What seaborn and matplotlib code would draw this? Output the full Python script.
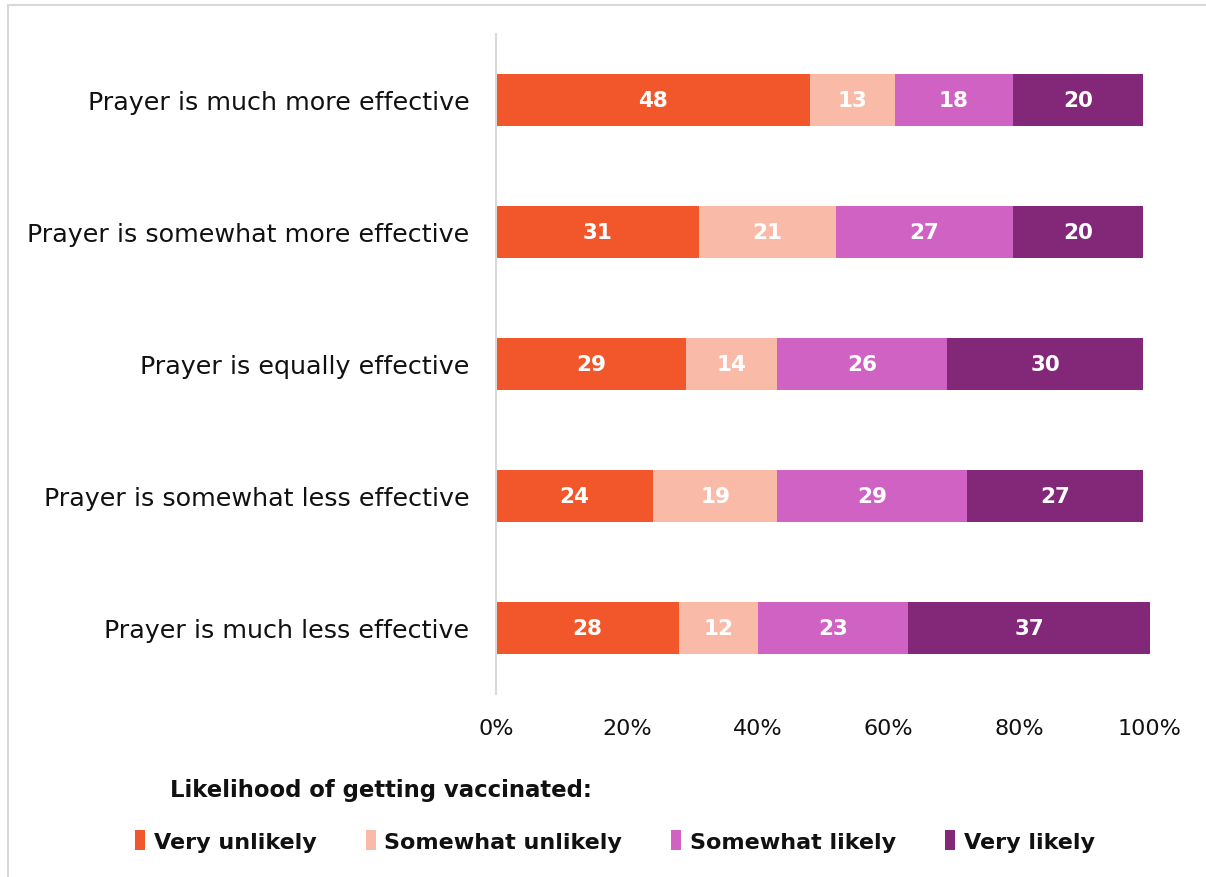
import matplotlib
matplotlib.use("Agg")
import matplotlib.pyplot as plt
from matplotlib.patches import Rectangle, Patch
import numpy as np
import pandas as pd
import seaborn as sns

categories = [
    "Prayer is much more effective",
    "Prayer is somewhat more effective",
    "Prayer is equally effective",
    "Prayer is somewhat less effective",
    "Prayer is much less effective",
]
series_names = ["Very unlikely", "Somewhat unlikely", "Somewhat likely", "Very likely"]
very_unlikely = [48, 31, 29, 24, 28]
somewhat_unlikely = [13, 21, 14, 19, 12]
somewhat_likely = [18, 27, 26, 29, 23]
very_likely = [20, 20, 30, 27, 37]
x_ticks = [0, 20, 40, 60, 80, 100]
x_tick_labels = ["0%", "20%", "40%", "60%", "80%", "100%"]
legend_title = "Likelihood of getting vaccinated:"

colors = ["#F2572B", "#F9BBA8", "#D062C4", "#832878"]

sns.set_theme(style="white")
plt.rcParams["font.family"] = ["DejaVu Sans"]

df = pd.DataFrame({
    "category": categories,
    series_names[0]: very_unlikely,
    series_names[1]: somewhat_unlikely,
    series_names[2]: somewhat_likely,
    series_names[3]: very_likely,
})
values = df[series_names].to_numpy(dtype=float)
cum = np.cumsum(values, axis=1)

fig = plt.figure(figsize=(12.06, 8.78), dpi=100)
ax = fig.add_axes([496 / 1206, 1 - 695 / 878, (1150 - 496) / 1206, 660 / 878])

# Stack by drawing cumulative totals, largest first, so each shorter bar sits on top
for i in range(len(series_names) - 1, -1, -1):
    d = pd.DataFrame({"category": categories, "total": cum[:, i]})
    sns.barplot(data=d, x="total", y="category", orient="h", color=colors[i],
                width=0.39, saturation=1, linewidth=0, ax=ax, order=categories)

# Value labels centred in each segment
for r in range(len(categories)):
    for i in range(len(series_names)):
        v = values[r, i]
        ax.text(cum[r, i] - v / 2, r, f"{int(v)}", ha="center", va="center",
                color="white", fontsize=15.5, fontweight="bold")

ax.set_xlim(0, 100)
ax.set_ylim(len(categories) - 0.5, -0.5)
ax.set_xticks(x_ticks)
ax.set_xticklabels(x_tick_labels)
ax.set_xlabel("")
ax.set_ylabel("")
ax.tick_params(axis="x", length=0, pad=17, labelsize=16, labelcolor="#111111")
ax.tick_params(axis="y", length=0, pad=19, labelsize=18.3, labelcolor="#111111")
for s in ["top", "right", "bottom"]:
    ax.spines[s].set_visible(False)
ax.spines["left"].set_color("#D9D9D9")
ax.spines["left"].set_linewidth(1.5)
ax.grid(False)

# Chart area frame
fig.patches.append(Rectangle((8 / 1206, -0.05), 1.2, 1 - 6 / 878 + 0.05,
                             transform=fig.transFigure, fill=False,
                             edgecolor="#D9D9D9", linewidth=1.5))

fig.text(170 / 1206, 1 - 791 / 878, legend_title, ha="left", va="center",
         fontsize=16.4, fontweight="bold", color="#111111")

handles = [Patch(facecolor=c, edgecolor="none") for c in colors]
leg = fig.legend(handles, series_names, loc="center", ncol=4,
                 bbox_to_anchor=(615 / 1206, 1 - 842 / 878), frameon=False,
                 handlelength=0.45, handleheight=1.0, handletextpad=0.4,
                 columnspacing=2.2, prop={"size": 16, "weight": "bold"})
for t in leg.get_texts():
    t.set_color("#111111")

fig.savefig("out.png", dpi=100, facecolor="white")
